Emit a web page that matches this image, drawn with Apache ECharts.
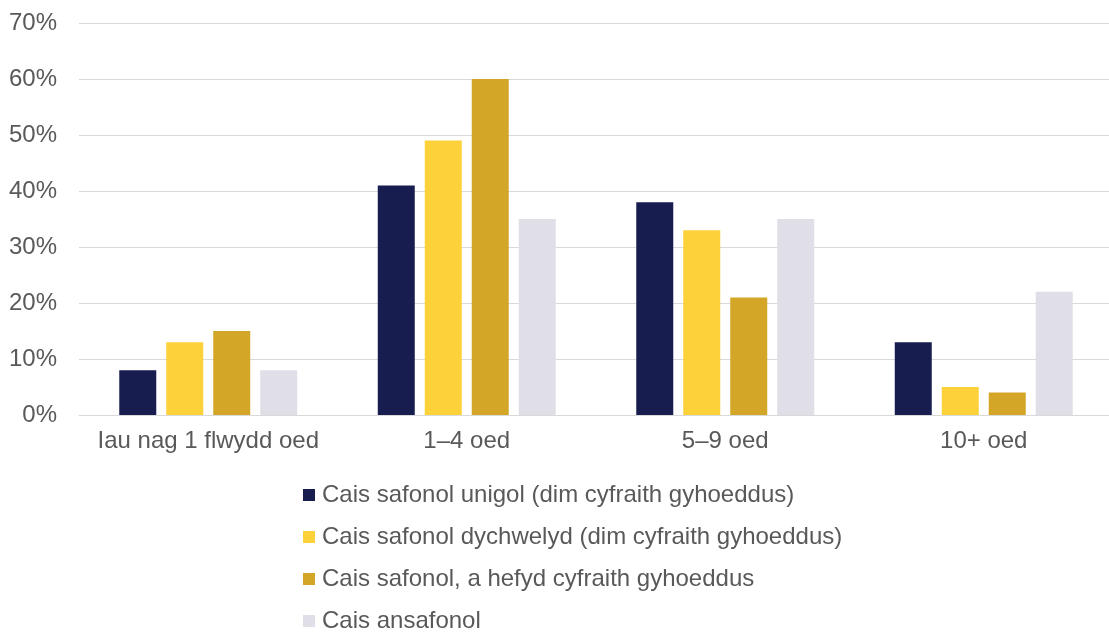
<!DOCTYPE html>
<html><head><meta charset="utf-8">
<script src="https://cdn.jsdelivr.net/npm/echarts@6/dist/echarts.min.js"></script>
<style>html,body{margin:0;padding:0;background:#fff;overflow:hidden}#c{width:1113px;height:632px}</style>
</head><body><div id="c"></div>
<script>
const categories = ['Iau nag 1 flwydd oed', '1–4 oed', '5–9 oed', '10+ oed'];
const seriesNames = [
  'Cais safonol unigol (dim cyfraith gyhoeddus)',
  'Cais safonol dychwelyd (dim cyfraith gyhoeddus)',
  'Cais safonol, a hefyd cyfraith gyhoeddus',
  'Cais ansafonol'
];
const unigol = [8, 41, 38, 13];
const dychwelyd = [13, 49, 33, 5];
const cyfraith = [15, 60, 21, 4];
const ansafonol = [8, 35, 35, 22];
const colors = ['#181d4f', '#fdd13a', '#d4a627', '#e0dfe8'];
const values = [unigol, dychwelyd, cyfraith, ansafonol];

const chart = echarts.init(document.getElementById('c'));
const font = 'Liberation Sans, Arial, sans-serif';
chart.setOption({
  animation: false,
  textStyle: { fontFamily: font },
  grid: { left: 79, top: 23, width: 1034, height: 392 },
  legend: {
    orient: 'vertical', left: 303, top: 483, height: 160, padding: 0,
    itemWidth: 12, itemHeight: 12, itemGap: 18, icon: 'rect',
    textStyle: { fontSize: 24, color: '#595959', fontFamily: font, lineHeight: 24, padding: [0, 0, 0, 2] },
    data: seriesNames
  },
  xAxis: {
    type: 'category', data: categories,
    axisLine: { show: true, lineStyle: { color: '#d9d9d9', width: 1 } },
    axisTick: { show: false },
    axisLabel: { fontSize: 24, color: '#595959', margin: 14, fontFamily: font, interval: 0 }
  },
  yAxis: {
    type: 'value', min: 0, max: 70, interval: 10,
    axisLabel: { formatter: '{value}%', fontSize: 24, color: '#595959', margin: 22, fontFamily: font },
    splitLine: { lineStyle: { color: '#d9d9d9', width: 1 } },
    axisLine: { show: false }, axisTick: { show: false }
  },
  series: values.map((v, i) => ({
    name: seriesNames[i], type: 'bar', data: v,
    barWidth: 37, barGap: '27%',
    itemStyle: { color: colors[i] }
  }))
});
</script></body></html>
